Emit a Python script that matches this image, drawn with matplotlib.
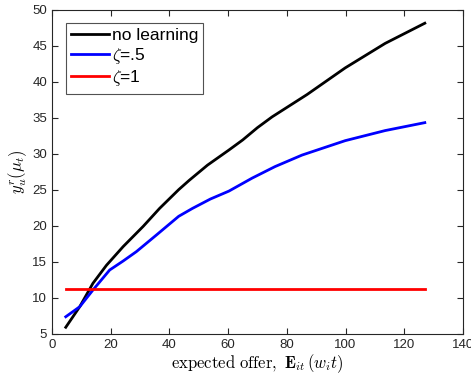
import numpy as np
import matplotlib
matplotlib.use("Agg")
import matplotlib.pyplot as plt

plt.rcParams["font.family"] = ["Liberation Sans", "DejaVu Sans"]
plt.rcParams["mathtext.fontset"] = "cm"

# values
x_black = [4.75, 9.5, 14.0, 18.6, 24.3, 31.1, 36.7, 43.2, 46.8, 53.0, 60.3, 65.0, 70.0, 75.0, 86.9, 99.9, 113.5, 127.0]
y_black = [5.9, 8.75, 12.0, 14.5, 17.1, 19.9, 22.4, 25.0, 26.3, 28.4, 30.5, 31.9, 33.6, 35.1, 38.2, 41.9, 45.3, 48.1]
x_blue = [4.75, 9.5, 14.0, 19.7, 24.3, 28.8, 35.6, 43.2, 47.9, 54.0, 60.3, 68.2, 76.0, 85.2, 99.9, 113.5, 127.0]
y_blue = [7.36, 8.75, 11.07, 13.85, 15.1, 16.4, 18.7, 21.3, 22.4, 23.7, 24.8, 26.6, 28.2, 29.8, 31.8, 33.2, 34.3]
x_red = [4.75, 127.0]
y_red = [11.17, 11.17]

fig = plt.figure(figsize=(4.71, 3.81), dpi=100)
ax = fig.add_axes([0.110, 0.124, 0.873, 0.851])
ax.plot(x_black, y_black, color="black", lw=2, label="no learning")
ax.plot(x_blue, y_blue, color="blue", lw=2, label=r"$\zeta$=.5")
ax.plot(x_red, y_red, color="red", lw=2, label=r"$\zeta$=1")

ax.set_xlim(0, 140)
ax.set_ylim(5, 50)
ax.set_xticks(np.arange(0, 141, 20))
ax.set_yticks(np.arange(5, 51, 5))
ax.tick_params(direction="in", top=True, right=True, labelsize=9.5, colors="#262626", length=4)
for s in ax.spines.values():
    s.set_color("#262626")
    s.set_linewidth(0.8)

ax.set_xlabel(r"$\mathrm{expected\ offer,}\ \mathbf{E}_{it}\,(w_i t)$", fontsize=12, labelpad=1)
ax.set_ylabel(r"$y_u^r(\mu_t)$", fontsize=12, labelpad=2)

leg = ax.legend(loc="upper left", bbox_to_anchor=(0.034, 0.959), fontsize=12.5, frameon=True, fancybox=False,
                edgecolor="#262626", handlelength=2.2, borderpad=0.3, labelspacing=0.15, handletextpad=0.15,
                borderaxespad=0)
leg.get_frame().set_linewidth(0.8)

fig.savefig("out.png", dpi=100)
